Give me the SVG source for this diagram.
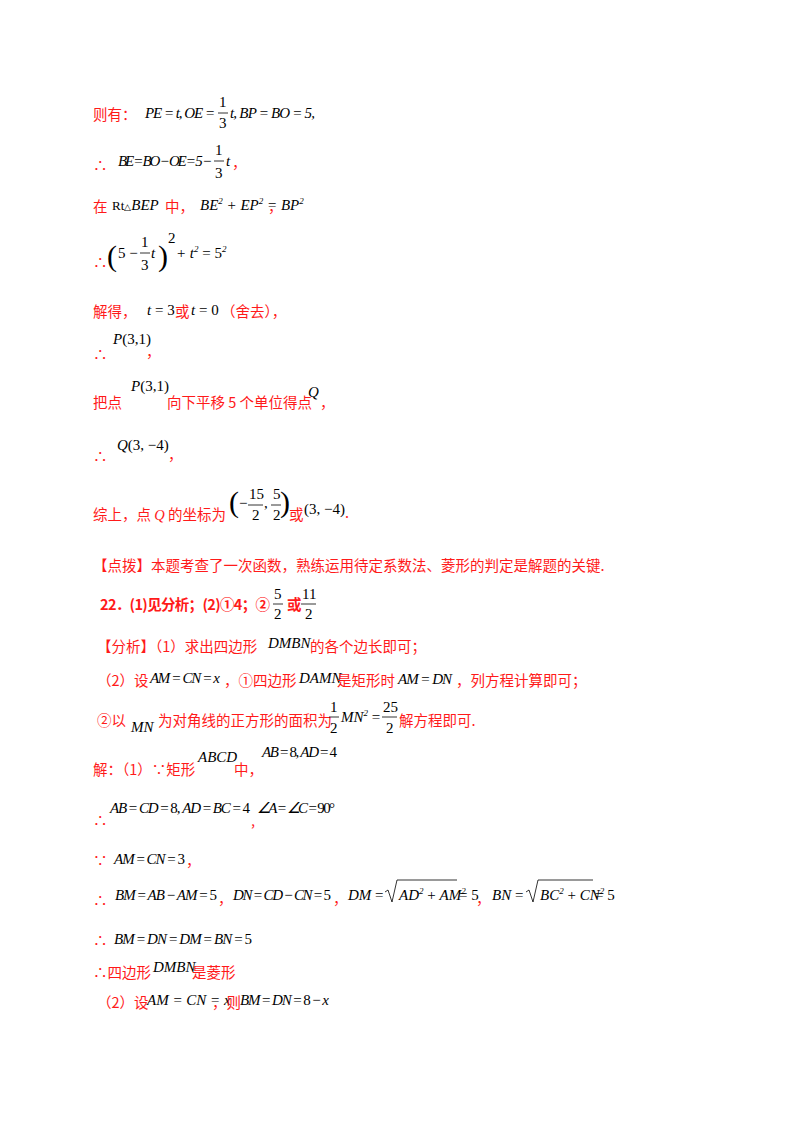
<svg xmlns="http://www.w3.org/2000/svg" width="800" height="1132" viewBox="0 0 800 1132">
<style>
.r{fill:#ff1a1a;font-family:"Noto Sans CJK SC","Liberation Sans",sans-serif;font-size:14.5px}
.b{font-weight:bold}
.m{fill:#000;font-family:"Liberation Serif",serif;font-style:italic;font-size:15px}
.s{fill:#000;font-family:"Liberation Serif",serif;font-size:15px}
.p{fill:#000;font-family:"Liberation Serif",serif;font-size:30px;font-weight:100}
line,path{stroke:#000;stroke-width:0.8;fill:none}
</style>
<rect width="800" height="1132" fill="#fff"/>
<!-- line 1 -->
<text class="r" x="93" y="120">则有：</text>
<text class="m" x="145" y="118" textLength="70" lengthAdjust="spacing">PE = t, OE =</text>
<text class="s" x="219" y="107">1</text><line x1="218" y1="113" x2="228" y2="113"/><text class="s" x="219" y="128">3</text>
<text class="m" x="230" y="118" textLength="85" lengthAdjust="spacing">t, BP = BO = 5,</text>
<!-- line 2 -->
<text class="r" x="93" y="171">∴</text>
<text class="m" x="118" y="166" textLength="94" lengthAdjust="spacing">BE = BO − OE = 5 −</text>
<text class="s" x="215" y="155">1</text><line x1="214" y1="161" x2="224" y2="161"/><text class="s" x="215" y="178">3</text>
<text class="m" x="226" y="166">t</text><text class="r" x="232" y="168">，</text>
<!-- line 3 -->
<text class="r" x="93" y="212">在</text>
<text class="m" x="112" y="210"><tspan font-style="normal" font-size="13">Rt</tspan><tspan font-style="normal" font-size="9">△</tspan>BEP</text>
<text class="r" x="165" y="212">中，</text>
<text class="m" x="200" y="210">BE<tspan font-size="9" dy="-6">2</tspan><tspan dy="6"> + EP</tspan><tspan font-size="9" dy="-6">2</tspan><tspan dy="6"> = BP</tspan><tspan font-size="9" dy="-6">2</tspan></text>
<text class="r" x="268" y="212">，</text>
<!-- line 4 -->
<text class="r" x="93" y="268">∴</text>
<text class="p" x="107" y="266">(</text>
<text class="s" x="118" y="258">5 −</text>
<text class="s" x="141" y="247">1</text><line x1="140" y1="253" x2="150" y2="253"/><text class="s" x="141" y="270">3</text>
<text class="m" x="151" y="258">t</text>
<text class="p" x="158" y="266">)</text>
<text class="s" x="168" y="243" font-size="9">2</text>
<text class="m" x="176" y="258">+ t<tspan font-size="9" dy="-6">2</tspan><tspan dy="6" font-style="normal"> = 5</tspan><tspan font-size="9" dy="-6">2</tspan></text>
<!-- line 5 -->
<text class="r" x="93" y="317">解得，</text>
<text class="m" x="147" y="315">t <tspan font-style="normal">= 3</tspan></text>
<text class="r" x="175" y="317">或</text>
<text class="m" x="191" y="315">t <tspan font-style="normal">= 0</tspan></text>
<text class="r" x="221" y="317">（舍去），</text>
<!-- line 6 -->
<text class="r" x="93" y="360" font-size="11">∴</text>
<text class="m" x="113" y="344" font-size="13">P<tspan font-style="normal">(3,1)</tspan></text>
<text class="r" x="146" y="357">，</text>
<!-- line 7 -->
<text class="r" x="93" y="408">把点</text>
<text class="m" x="131" y="391" font-size="13">P<tspan font-style="normal">(3,1)</tspan></text>
<text class="r" x="167" y="408">向下平移 5 个单位得点</text>
<text class="m" x="308" y="397">Q</text>
<text class="r" x="320" y="408">，</text>
<!-- line 8 -->
<text class="r" x="93" y="462">∴</text>
<text class="m" x="117" y="450">Q<tspan font-style="normal">(3, −4)</tspan></text>
<text class="r" x="168" y="460">，</text>
<!-- line 9 -->
<text class="r" x="93" y="520">综上，点 <tspan font-family="Liberation Serif" font-style="italic">Q</tspan> 的坐标为</text>
<text class="p" x="229" y="512" font-size="32">(</text>
<text class="s" x="239" y="508">−</text>
<text class="s" x="249" y="499">15</text><line x1="248" y1="505" x2="263" y2="505"/><text class="s" x="252" y="520">2</text>
<text class="s" x="264" y="508">,</text>
<text class="s" x="273" y="499">5</text><line x1="271" y1="505" x2="281" y2="505"/><text class="s" x="273" y="520">2</text>
<text class="p" x="280" y="512" font-size="32">)</text>
<text class="r" x="289" y="520">或</text>
<text class="s" x="304" y="514">(3, −4)</text>
<text class="r" x="345" y="518">.</text>
<!-- line 10 -->
<text class="r" x="93" y="571">【点拨】本题考查了一次函数，熟练运用待定系数法、菱形的判定是解题的关键.</text>
<!-- line 11 -->
<text class="r b" x="100" y="610" textLength="170" lengthAdjust="spacing">22．(1)见分析；(2)①4；②</text>
<text class="s" x="274" y="599">5</text><line x1="273" y1="604" x2="283" y2="604"/><text class="s" x="274" y="619">2</text>
<text class="r b" x="287" y="610">或</text>
<text class="s" x="302" y="599">11</text><line x1="301" y1="604" x2="316" y2="604"/><text class="s" x="305" y="619">2</text>
<!-- line 12 -->
<text class="r" x="97" y="652">【分析】（1）求出四边形</text>
<text class="m" x="268" y="648">DMBN</text>
<text class="r" x="310" y="652">的各个边长即可；</text>
<!-- line 13 -->
<text class="r" x="97" y="686">（2）设</text>
<text class="m" x="150" y="683" font-size="12.5" textLength="70" lengthAdjust="spacing">AM = CN = x</text>
<text class="r" x="224" y="686">，①四边形</text>
<text class="m" x="299" y="683" font-size="12.5">DAMN</text>
<text class="r" x="337" y="686">是矩形时</text>
<text class="m" x="398" y="684" textLength="54" lengthAdjust="spacing">AM = DN</text>
<text class="r" x="456" y="686">，列方程计算即可；</text>
<!-- line 14 -->
<text class="r" x="97" y="726">②以</text>
<text class="m" x="131" y="732">MN</text>
<text class="r" x="158" y="726">为对角线的正方形的面积为</text>
<text class="s" x="330" y="712">1</text><line x1="329" y1="717" x2="339" y2="717"/><text class="s" x="330" y="733">2</text>
<text class="m" x="341" y="722">MN<tspan font-size="9" dy="-6">2</tspan><tspan dy="6" font-style="normal"> =</tspan></text>
<text class="s" x="383" y="712">25</text><line x1="382" y1="717" x2="397" y2="717"/><text class="s" x="386" y="733">2</text>
<text class="r" x="399" y="726">解方程即可.</text>
<!-- line 15 -->
<text class="r" x="93" y="775">解：（1）∵矩形</text>
<text class="m" x="198" y="762">ABCD</text>
<text class="r" x="234" y="775">中，</text>
<text class="m" x="262" y="757" textLength="75" lengthAdjust="spacing">AB <tspan font-style="normal">= 8, </tspan>AD <tspan font-style="normal">= 4</tspan></text>
<!-- line 16 -->
<text class="r" x="93" y="826" font-size="11">∴</text>
<text class="m" x="110" y="813" textLength="140" lengthAdjust="spacing">AB <tspan font-style="normal">=</tspan> CD <tspan font-style="normal">= 8, </tspan>AD <tspan font-style="normal">=</tspan> BC <tspan font-style="normal">= 4</tspan></text>
<text class="r" x="251" y="826" font-size="11">,</text>
<text class="m" x="257" y="813" textLength="78" lengthAdjust="spacing">∠A <tspan font-style="normal">=</tspan> ∠C <tspan font-style="normal">= 90°</tspan></text>
<!-- line 17 -->
<text class="r" x="93" y="866">∵</text>
<text class="m" x="114" y="864" textLength="71" lengthAdjust="spacing">AM <tspan font-style="normal">=</tspan> CN <tspan font-style="normal">= 3</tspan></text>
<text class="r" x="186" y="866">，</text>
<!-- line 18 -->
<text class="r" x="93" y="906">∴</text>
<text class="m" x="115" y="900" textLength="102" lengthAdjust="spacing">BM <tspan font-style="normal">=</tspan> AB <tspan font-style="normal">−</tspan> AM <tspan font-style="normal">= 5</tspan></text>
<text class="r" x="218" y="904">，</text>
<text class="m" x="233" y="900" textLength="98" lengthAdjust="spacing">DN <tspan font-style="normal">=</tspan> CD <tspan font-style="normal">−</tspan> CN <tspan font-style="normal">= 5</tspan></text>
<text class="r" x="333" y="904">，</text>
<text class="m" x="348" y="900">DM <tspan font-style="normal">=</tspan></text>
<path d="M385,892 l3,-2 l4,12 l5,-22 h60"/>
<text class="m" x="399" y="900">AD<tspan font-size="9" dy="-6">2</tspan><tspan dy="6" font-style="normal"> + </tspan>AM<tspan font-size="9" dy="-6">2</tspan></text>
<text class="s" x="459" y="900">= 5</text>
<text class="r" x="476" y="904">，</text>
<text class="m" x="492" y="900">BN <tspan font-style="normal">=</tspan></text>
<path d="M526,892 l3,-2 l4,12 l5,-22 h55"/>
<text class="m" x="540" y="900">BC<tspan font-size="9" dy="-6">2</tspan><tspan dy="6" font-style="normal"> + </tspan>CN<tspan font-size="9" dy="-6">2</tspan></text>
<text class="s" x="595" y="900">= 5</text>
<!-- line 19 -->
<text class="r" x="93" y="946">∴</text>
<text class="m" x="114" y="944" textLength="138" lengthAdjust="spacing">BM <tspan font-style="normal">=</tspan> DN <tspan font-style="normal">=</tspan> DM <tspan font-style="normal">=</tspan> BN <tspan font-style="normal">= 5</tspan></text>
<!-- line 20 -->
<text class="r" x="93" y="978">∴四边形</text>
<text class="m" x="153" y="972">DMBN</text>
<text class="r" x="192" y="978">是菱形</text>
<!-- line 21 -->
<text class="r" x="97" y="1008">（2）设</text>
<text class="m" x="147" y="1005" font-size="12.5">AM = CN = x</text>
<text class="r" x="212" y="1008">，则</text>
<text class="m" x="240" y="1005" textLength="89" lengthAdjust="spacing">BM <tspan font-style="normal">=</tspan> DN <tspan font-style="normal">= 8 −</tspan> x</text>
</svg>
